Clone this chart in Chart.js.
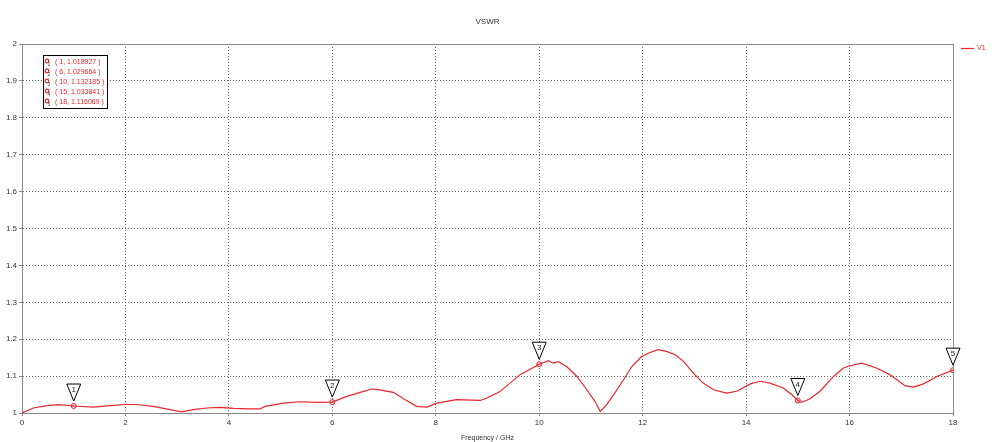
<!DOCTYPE html>
<html>
<head>
<meta charset="utf-8">
<script src="https://cdn.jsdelivr.net/npm/chart.js@4.4.0/dist/chart.umd.min.js"></script>
<style>
  html, body { margin:0; padding:0; background:#fff; }
  #wrap { width:1000px; height:442px; position:relative; }
</style>
</head>
<body>
<div id="wrap"><canvas id="vswrChart"></canvas></div>
<script>
// frequency points (GHz) and VSWR
const freq = [0, 0.22, 0.48, 0.7, 1.0, 1.38, 1.7, 2.0, 2.22, 2.54, 2.86, 3.09, 3.31, 3.57, 3.83, 4.09, 4.37, 4.6, 4.7, 5.05,
  5.38, 5.7, 6.0, 6.28, 6.54, 6.76, 6.86, 7.18, 7.41, 7.63, 7.83, 8.02, 8.4, 8.86, 8.98, 9.24, 9.63, 10.0, 10.18, 10.27,
  10.37, 10.53, 10.73, 10.92, 11.08, 11.18, 11.3, 11.46, 11.63, 11.79, 11.98, 12.14, 12.3, 12.46, 12.63, 12.79, 12.98, 13.17, 13.37, 13.62,
  13.82, 14.08, 14.27, 14.46, 14.72, 14.88, 15.0, 15.07, 15.23, 15.43, 15.69, 15.88, 16.01, 16.24, 16.52, 16.78, 17.07, 17.23, 17.43, 17.69, 18.0];
const vswr = [1.0, 1.0135, 1.02, 1.0225, 1.0189, 1.016, 1.02, 1.023, 1.023, 1.018, 1.009, 1.003, 1.009, 1.0135, 1.015, 1.0125, 1.011, 1.011, 1.018, 1.027,
  1.0305, 1.029, 1.0297, 1.045, 1.056, 1.065, 1.064, 1.056, 1.036, 1.018, 1.016, 1.027, 1.036, 1.034, 1.04, 1.058, 1.104, 1.1322, 1.142, 1.135,
  1.139, 1.126, 1.099, 1.063, 1.031, 1.004, 1.022, 1.054, 1.09, 1.126, 1.153, 1.164, 1.1715, 1.167, 1.158, 1.14, 1.108, 1.081, 1.063, 1.054,
  1.059, 1.079, 1.086, 1.081, 1.068, 1.05, 1.0338, 1.029, 1.038, 1.059, 1.099, 1.122, 1.128, 1.135, 1.122, 1.104, 1.074, 1.07, 1.079, 1.099, 1.1161];

// markers
const markerX = [1, 6, 10, 15, 18];
const markerY = [1.018927, 1.029664, 1.132185, 1.033841, 1.116069];
const markerText = ['1, 1.018927', '6, 1.029664', '10, 1.132185', '15, 1.033841', '18, 1.116069'];

const xTicks = [0, 2, 4, 6, 8, 10, 12, 14, 16, 18];
const seriesName = 'V1';

const RED = '#e8262c';
const FONT = '"Liberation Sans", Tahoma, sans-serif';

const overlay = {
  id: 'overlay',
  afterDatasetsDraw(chart) {
    const c = chart.ctx, xs = chart.scales.x, ys = chart.scales.y, a = chart.chartArea;
    c.save();
    // title
    c.fillStyle = '#333';
    c.font = '8px ' + FONT;
    c.textAlign = 'center';
    c.textBaseline = 'middle';
    c.fillText('VSWR', (a.left + a.right) / 2, 22);

    // marker triangles
    markerX.forEach((mx, i) => {
      const px = xs.getPixelForValue(mx), py = ys.getPixelForValue(markerY[i]);
      const tipY = py - 5, topY = tipY - 17;
      c.beginPath();
      c.moveTo(px - 7, topY);
      c.lineTo(px + 7, topY);
      c.lineTo(px, tipY);
      c.closePath();
      c.fillStyle = '#fff';
      c.fill();
      c.strokeStyle = '#000';
      c.lineWidth = 1;
      c.stroke();
      c.fillStyle = '#222';
      c.font = '8px ' + FONT;
      c.fillText(String(i + 1), px, topY + 6);
    });

    // marker legend box
    const bx = 43, by = 55, bw = 64, bh = 53;
    c.fillStyle = '#fff';
    c.fillRect(bx, by, bw, bh);
    c.strokeStyle = '#000';
    c.lineWidth = 1;
    c.strokeRect(bx + 0.5, by + 0.5, bw, bh);
    c.textAlign = 'left';
    markerText.forEach((t, i) => {
      const ry = by + 7 + i * 10;
      c.beginPath();
      c.arc(bx + 4, ry - 1, 1.8, 0, Math.PI * 2);
      c.strokeStyle = RED;
      c.lineWidth = 1.2;
      c.stroke();
      c.fillStyle = '#333';
      c.font = '5px ' + FONT;
      c.fillText(String(i + 1), bx + 4.5, ry + 3);
      c.fillStyle = RED;
      c.font = '7px ' + FONT;
      c.fillText('( ' + t + ' )', bx + 12, ry);
    });

    // series legend on the right
    c.strokeStyle = RED;
    c.lineWidth = 1.2;
    c.beginPath();
    c.moveTo(961, 48.5);
    c.lineTo(974, 48.5);
    c.stroke();
    c.fillStyle = RED;
    c.font = '7px ' + FONT;
    c.fillText(seriesName, 977, 48.5);
    c.restore();
  }
};

new Chart(document.getElementById('vswrChart'), {
  type: 'scatter',
  data: {
    datasets: [
      {
        label: seriesName,
        data: freq.map((f, i) => ({ x: f, y: vswr[i] })),
        showLine: true,
        borderColor: RED,
        borderWidth: 1.2,
        pointRadius: 0,
        tension: 0
      },
      {
        label: 'markers',
        data: markerX.map((m, i) => ({ x: m, y: markerY[i] })),
        showLine: false,
        pointRadius: 2.5,
        pointBorderColor: RED,
        pointBackgroundColor: '#fbd0d0',
        pointBorderWidth: 1
      }
    ]
  },
  options: {
    responsive: true,
    maintainAspectRatio: false,
    animation: false,
    layout: { padding: { left: 0, right: 47, top: 44, bottom: 0 } },
    plugins: {
      legend: { display: false },
      tooltip: { enabled: false }
    },
    scales: {
      x: {
        type: 'linear',
        min: 0, max: 18,
        afterBuildTicks: s => { s.ticks = xTicks.map(v => ({ value: v })); },
        afterFit: s => { s.height = 29; },
        ticks: { color: '#333', font: { size: 8, family: FONT }, padding: 2, maxRotation: 0 },
        grid: { color: '#666', lineWidth: 1, tickLength: 3, tickColor: '#888' },
        border: { display: true, color: '#888', dash: [1, 2] },
        title: { display: true, text: 'Frequency / GHz', color: '#333', font: { size: 7, family: FONT }, padding: { top: 3, bottom: 0 } }
      },
      y: {
        min: 1, max: 2,
        afterFit: s => { s.width = 22; },
        ticks: {
          stepSize: 0.1,
          color: '#333',
          font: { size: 8, family: FONT },
          padding: 2,
          callback: v => String(Number(v.toFixed(1)))
        },
        grid: { color: '#666', lineWidth: 1, tickLength: 3, tickColor: '#888' },
        border: { display: true, color: '#888', dash: [1, 2] }
      }
    }
  },
  plugins: [overlay, {
    id: 'frame',
    beforeDatasetsDraw(chart) {
      const c = chart.ctx, a = chart.chartArea;
      c.save();
      c.strokeStyle = '#888';
      c.lineWidth = 1;
      c.strokeRect(Math.round(a.left) + 0.5, Math.round(a.top) + 0.5, Math.round(a.right - a.left), Math.round(a.bottom - a.top));
      c.restore();
    }
  }]
});
</script>
</body>
</html>
